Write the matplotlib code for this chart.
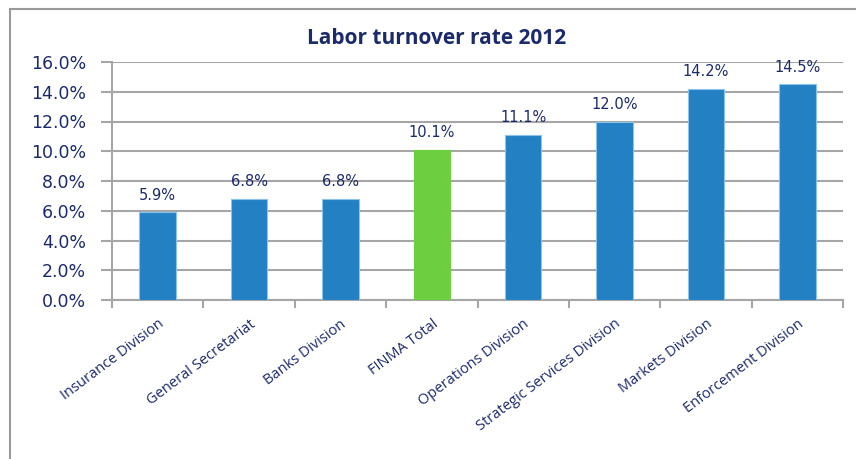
import numpy as np
import matplotlib.pyplot as plt
from matplotlib.patches import Rectangle

categories = ["Insurance Division", "General Secretariat", "Banks Division", "FINMA Total",
              "Operations Division", "Strategic Services Division", "Markets Division",
              "Enforcement Division"]
rates = [5.9, 6.8, 6.8, 10.1, 11.1, 12.0, 14.2, 14.5]
value_labels = ["5.9%", "6.8%", "6.8%", "10.1%", "11.1%", "12.0%", "14.2%", "14.5%"]
highlight = "FINMA Total"

navy = "#1b2a6b"
blue = "#2280c3"
green = "#6dcf3f"
grid_gray = "#a6a6a6"

fig = plt.figure(figsize=(8.56, 4.59), dpi=100)
# outer frame, runs off the right and bottom edges like the original
fig.patches.append(Rectangle((10 / 856, -0.1), 1.1, 1.1 - 9 / 459, transform=fig.transFigure,
                             fill=False, edgecolor="#9a9a9a", linewidth=1.5))

ax = fig.add_axes([112 / 856, 1 - 300 / 459, (843 - 112) / 856, (300 - 62) / 459])

x = np.arange(len(categories))
colors = [green if c == highlight else blue for c in categories]
edges = [green if c == highlight else "#8cc3ea" for c in categories]
ax.bar(x, rates, width=0.4, color=colors, edgecolor=edges, linewidth=0.8, zorder=3)

for xi, r, lab in zip(x, rates, value_labels):
    ax.text(xi, r + 0.85, lab, ha="center", va="baseline", fontsize=10.5, color=navy, zorder=4)

ax.set_xlim(-0.5, len(categories) - 0.5)
ax.set_ylim(0, 16)
yt = np.arange(0, 16.1, 2)
ax.set_yticks(yt)
ax.set_yticklabels([f"{v:.1f}%" for v in yt], fontsize=12.5, color=navy)
ax.yaxis.grid(True, color=grid_gray, linewidth=1.5, zorder=0)
ax.tick_params(axis="y", length=8, width=1.5, color=grid_gray, pad=10.5)

ax.set_xticks(x)
ax.set_xticklabels(categories, rotation=37, ha="right", va="top", rotation_mode="anchor",
                   fontsize=10.5, color=navy, family="Open Sans")
ax.tick_params(axis="x", length=0, pad=12)
ax.set_xticks(np.arange(-0.5, len(categories), 1), minor=True)
ax.tick_params(axis="x", which="minor", length=6, width=1.5, color=grid_gray)

for s in ["top", "right"]:
    ax.spines[s].set_visible(False)
for s in ["left", "bottom"]:
    ax.spines[s].set_color(grid_gray)
    ax.spines[s].set_linewidth(1.5)

fig.text(437 / 856, 1 - 38 / 459, "Labor turnover rate 2012", ha="center", va="center",
         fontsize=15, fontweight="bold", color=navy, family="Open Sans")

fig.savefig("out.png", dpi=100)
